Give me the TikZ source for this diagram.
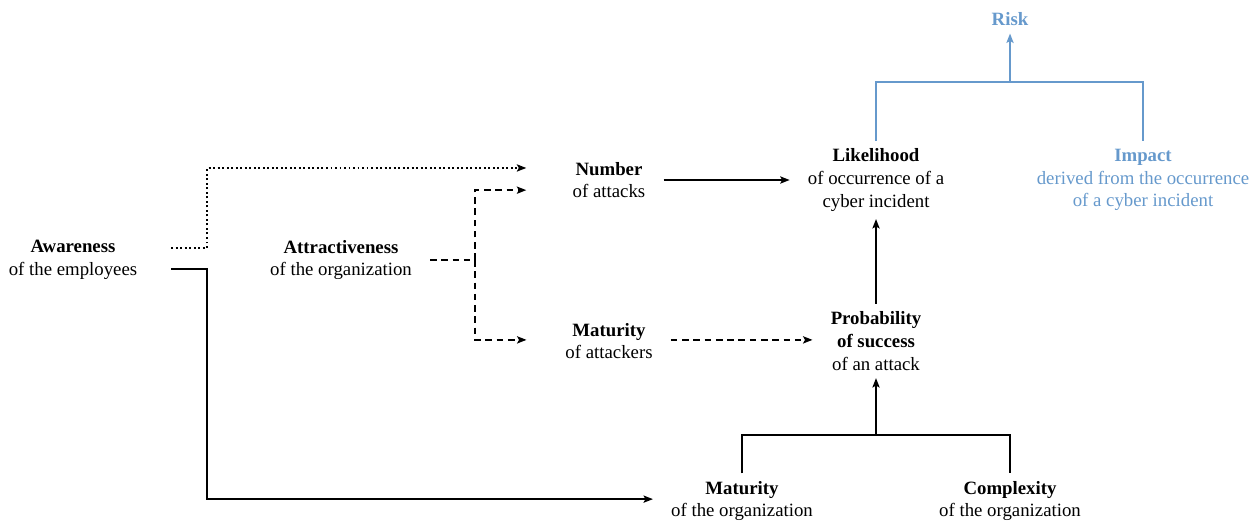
\documentclass[tikz,border=0pt]{standalone}
\usepackage{fontspec}
\setmainfont{Liberation Serif}
\usetikzlibrary{arrows.meta}
\definecolor{riskblue}{RGB}{102,153,204}

\begin{document}
\begin{tikzpicture}[x=0.532pt,y=-0.532pt,
  factor/.style={align=center,inner xsep=9.5pt,inner ysep=4pt},
  bar/.style={line width=1pt},
  link/.style={bar,-{Stealth[length=5pt,width=3.8pt,inset=1pt]}},
  dashlink/.style={link,dash pattern=on 3.5pt off 2.5pt},
  dotlink/.style={link,dash pattern=on 1pt off 1.4pt}]

  \useasboundingbox (0,0) rectangle (1260,521);

  \node[factor] (aware)   at (73,260)   {\textbf{Awareness}\\of the employees};
  \node[factor] (attract) at (341,260)  {\textbf{Attractiveness}\\of the organization};
  \node[factor] (number)  at (609,180)  {\textbf{Number}\\of attacks};
  \node[factor] (mattack) at (609,341)  {\textbf{Maturity}\\of attackers};
  \node[factor] (likely)  at (876,180)  {\textbf{Likelihood}\\of occurrence of a\\cyber incident};
  \node[factor] (prob)    at (876,341)  {\textbf{Probability}\\\textbf{of success}\\of an attack};
  \node[factor] (morg)    at (742,501)  {\textbf{Maturity}\\of the organization};
  \node[factor] (cplx)    at (1010,501) {\textbf{Complexity}\\of the organization};
  \node[factor,riskblue] (impact) at (1143,180) {\textbf{Impact}\\derived from the occurrence\\of a cyber incident};
  \node[factor,riskblue] (risk)   at (1010,19)  {\textbf{Risk}};

  % awareness
  \draw[dotlink] ([xshift=8.5pt,yshift=6.4pt]aware.east) -- ++(36,0) |- ([xshift=-15pt,yshift=6.4pt]number.west);
  \draw[link] ([xshift=8.5pt,yshift=-4.8pt]aware.east) -- ++(36,0) |- ([yshift=1pt]morg.west);

  % attractiveness
  \draw[bar,dash pattern=on 3.5pt off 2.5pt] (attract.east) -- ++(45,0) coordinate (fork);
  \draw[dashlink] (fork) |- ([xshift=-15pt,yshift=-5.4pt]number.west);
  \draw[dashlink] (fork) |- ([xshift=-11pt,yshift=0.6pt]mattack.west);

  \draw[link] (number.east) -- (number.east -| likely.west);
  \draw[dashlink] ([yshift=0.6pt]mattack.east) -- ([yshift=0.6pt]mattack.east -| prob.west);
  \draw[link] (prob.north) -- (likely.south);

  % organization
  \draw[bar] (morg.north) -- ++(0,-38) coordinate (orgjoin) -| (cplx.north);
  \draw[link] (orgjoin -| prob.south) -- (prob.south);

  % risk
  \draw[bar,riskblue] (likely.north) -- ++(0,-59) coordinate (riskjoin) -| (impact.north);
  \draw[link,riskblue] (riskjoin -| risk.south) -- (risk.south);

\end{tikzpicture}
\end{document}
